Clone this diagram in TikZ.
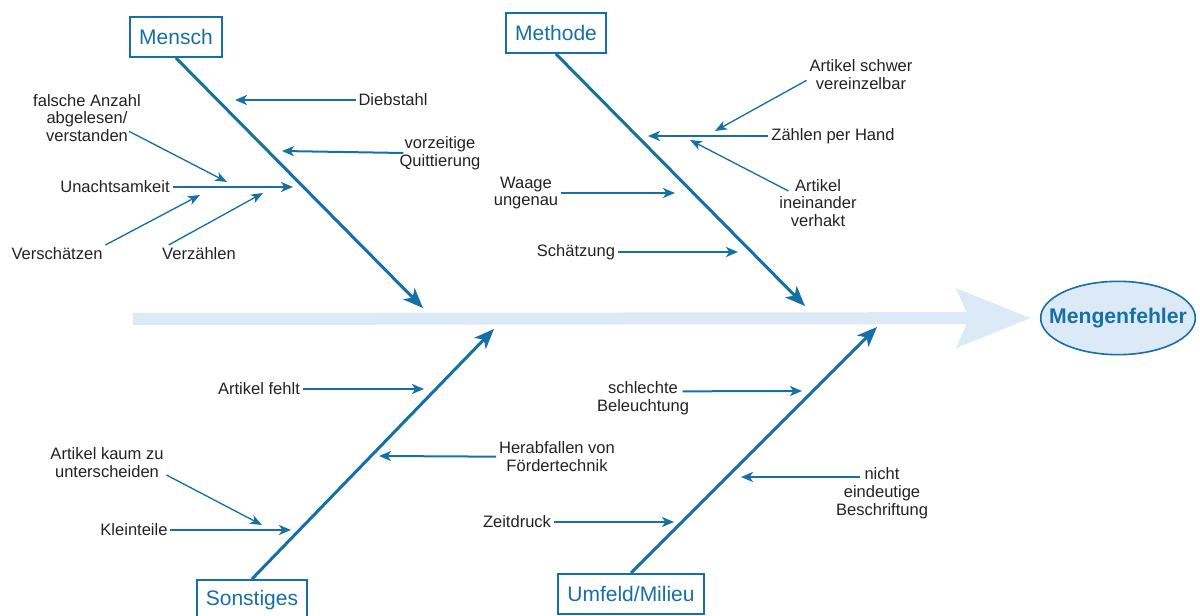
\documentclass[tikz,border=0pt]{standalone}
\usepackage{fontspec}
\setmainfont{Liberation Sans}
\usepackage{tikz}
\usetikzlibrary{arrows.meta,shapes.geometric}
\usepackage{xcolor}
\definecolor{graetenblau}{RGB}{22,112,165}
\definecolor{hellblau}{RGB}{220,234,247}
\definecolor{textgrau}{RGB}{34,34,34}

\begin{document}
\begin{tikzpicture}[x=0.75pt,y=-0.75pt,
  kategorie/.style={draw=graetenblau,line width=1.5pt,text=graetenblau,fill=white,
    font=\fontsize{15.75}{18}\selectfont,minimum height=30pt,inner xsep=7pt},
  ursache/.style={text=textgrau,font=\fontsize{12.4}{13.4}\selectfont,align=center,inner sep=2pt},
  graete/.style={draw=graetenblau,line width=2.25pt,-{Stealth[length=15pt,width=12pt,inset=4pt]}},
  pfeil/.style={draw=graetenblau,line width=1.5pt,-{Stealth[length=9pt,width=7.5pt,inset=2.5pt]}},
  duenn/.style={draw=graetenblau,line width=1pt,-{Stealth[length=9pt,width=7pt,inset=2.5pt]}}]
  % Rahmen (1200 x 616)
  \useasboundingbox (0,0) rectangle (1200,616);

  % Wirkung und Hauptachse
  \node[ellipse,draw=graetenblau,line width=1.2pt,fill=hellblau,minimum width=116pt,
    minimum height=55pt,inner sep=0pt,text=graetenblau,
    font=\bfseries\fontsize{15.9}{18}\selectfont] (wirkung) at (1118,318) {\makebox[0pt]{Mengenfehler}};
  \coordinate (achse) at (133,319);
  \draw[hellblau,line width=9pt,shorten >=7pt,
    -{Stealth[length=56pt,width=45pt,inset=10pt,line width=0pt]}] (achse) -- (wirkung);

  % Kategorien
  \node[kategorie] (mensch) at (176,37) {Mensch};
  \node[kategorie] (methode) at (556,33) {Methode};
  \node[kategorie] (sonstiges) at (252,600) {Sonstiges};
  \node[kategorie] (umfeld) at (631,594) {Umfeld/Milieu};

  % Hauptgraeten
  \coordinate (mensch-spitze) at (423,308);
  \coordinate (methode-spitze) at (805,306);
  \coordinate (sonstiges-spitze) at (494,329);
  \coordinate (umfeld-spitze) at (877,327);
  \draw[graete] (mensch.south) -- (mensch-spitze);
  \draw[graete] (methode.south) -- (methode-spitze);
  \draw[graete] (sonstiges.north) -- (sonstiges-spitze);
  \draw[graete] (umfeld.north) -- (umfeld-spitze);

  % Mensch
  \node[ursache] (dieb) at (393,100) {Diebstahl};
  \node[ursache] (vorz) at (440,153) {vorzeitige\\Quittierung};
  \node[ursache] (unacht) at (115,187) {Unachtsamkeit};
  \node[ursache] (falsch) at (87,118) {falsche Anzahl\\abgelesen/\\verstanden};
  \node[ursache] (versch) at (57,254) {Verschätzen};
  \node[ursache] (verz) at (199,254) {Verzählen};
  \coordinate (dieb-z) at (235,100);
  \coordinate (vorz-z) at (282,151);
  \coordinate (unacht-z) at (293,187);
  \coordinate (falsch-z) at (227,182);
  \coordinate (versch-z) at (200,195);
  \coordinate (verz-z) at (263,193);
  \draw[pfeil] (dieb) -- (dieb-z);
  \draw[pfeil] ([xshift=5pt]vorz.west) -- (vorz-z);
  \draw[pfeil] (unacht) -- (unacht-z);
  \draw[duenn] ([xshift=-11pt,yshift=-10pt]falsch.east) -- (falsch-z);
  \draw[duenn] (versch.north east) -- (versch-z);
  \draw[duenn] ([xshift=7pt]verz.north west) -- (verz-z);

  % Methode
  \node[ursache] (schwer) at (861,75) {Artikel schwer\\vereinzelbar};
  \node[ursache] (hand) at (833,136) {Zählen per Hand};
  \node[ursache] (verhakt) at (818,203) {Artikel\\ineinander\\verhakt};
  \node[ursache] (waage) at (526,193) {Waage\\ungenau};
  \node[ursache] (schaetz) at (576,252) {Schätzung};
  \coordinate (schwer-z) at (715,131);
  \coordinate (hand-z) at (648,136);
  \coordinate (verhakt-z) at (690,140);
  \coordinate (waage-z) at (675,193);
  \coordinate (schaetz-z) at (738,252);
  \draw[duenn] ([yshift=-4pt]schwer.west) -- (schwer-z);
  \draw[pfeil] (hand) -- (hand-z);
  \draw[duenn] ([xshift=9pt,yshift=9pt]verhakt.west) -- (verhakt-z);
  \draw[pfeil] (waage) -- (waage-z);
  \draw[pfeil] (schaetz) -- (schaetz-z);

  % Sonstiges
  \node[ursache] (fehlt) at (259,389) {Artikel fehlt};
  \node[ursache] (herab) at (557,457) {Herabfallen von\\Fördertechnik};
  \node[ursache] (kaum) at (107,463) {Artikel kaum zu\\unterscheiden};
  \node[ursache] (klein) at (134,530) {Kleinteile};
  \coordinate (fehlt-z) at (424,389);
  \coordinate (herab-z) at (379,456);
  \coordinate (kaum-z) at (262,525);
  \coordinate (klein-z) at (291,530);
  \draw[pfeil] (fehlt) -- (fehlt-z);
  \draw[pfeil] (herab) -- (herab-z);
  \draw[duenn] ([yshift=-9pt]kaum.east) -- (kaum-z);
  \draw[pfeil] (klein) -- (klein-z);

  % Umfeld/Milieu
  \node[ursache] (licht) at (643,398) {schlechte\\Beleuchtung};
  \node[ursache] (schrift) at (882,493) {nicht\\eindeutige\\Beschriftung};
  \node[ursache] (zeit) at (517,522) {Zeitdruck};
  \coordinate (licht-z) at (802,391);
  \coordinate (schrift-z) at (741,477);
  \coordinate (zeit-z) at (674,522);
  \draw[pfeil] ([xshift=-7pt,yshift=5pt]licht.east) -- (licht-z);
  \draw[pfeil] ([xshift=20pt,yshift=12pt]schrift.west) -- (schrift-z);
  \draw[pfeil] (zeit) -- (zeit-z);
\end{tikzpicture}
\end{document}
